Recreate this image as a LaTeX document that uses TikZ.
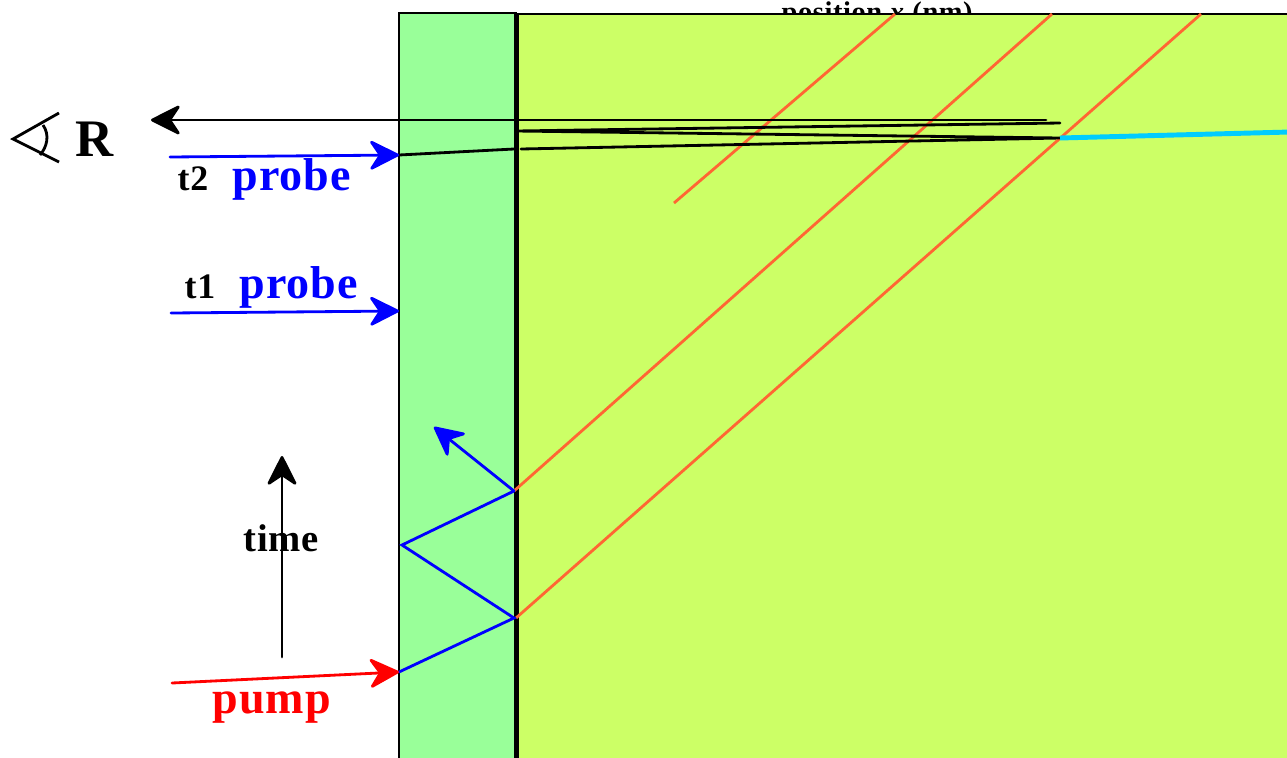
\documentclass[tikz,border=0pt]{standalone}
\usepackage{fontspec}
\setmainfont{Liberation Serif}
\usepackage[dvipsnames,svgnames,x11names]{xcolor}
\definecolor{film}{RGB}{153, 255, 153}
\definecolor{substrate}{RGB}{204, 255, 102}
\definecolor{phonon}{RGB}{255, 102, 51}
\definecolor{transmitted}{RGB}{0, 204, 255}
\usetikzlibrary{arrows.meta}
\tikzset{
    lbl/.style={inner sep=0pt, anchor=base west, font=\bfseries\fontsize{#1}{#1}\selectfont\addfontfeature{LetterSpace=2}},
    beam/.style={line width=0.8pt, line cap=round, -{Stealth[length=0.33cm, width=0.33cm, inset=0.11cm, round]}},
    ray/.style={line width=0.8pt, line cap=round},
    front/.style={line width=0.8pt, phonon}
}
\begin{document}
\begin{tikzpicture}[x=0.01cm, y=-0.01cm]
    \useasboundingbox (0,0) rectangle (1287,757);
    \clip (0,0) rectangle (1287,757);

    % Axis title, half hidden by the layers
    \node[lbl=8.1] (axis) at (781,21) {position \textit{x} (nm)};

    % Layers
    \draw[line width=0.8pt, fill=substrate] (516,14) rectangle (1300,770);
    \draw[line width=0.8pt, fill=film] (399,13) rectangle (516,770);
    \coordinate (IT) at (516.5,13);
    \coordinate (IB) at (516.5,770);
    \draw[line width=1.3pt] (IT) -- (IB);

    % Strain fronts
    \coordinate (A1) at (516,618);
    \coordinate (A2) at (514,491);
    \coordinate (E1) at (1201,14);
    \coordinate (E2) at (1052,14);
    \coordinate (E3) at (895,14);
    \coordinate (S3) at (674,203);
    \draw[front] (A1) -- (E1);
    \draw[front] (A2) -- (E2);
    \draw[front] (S3) -- (E3);

    % Probe reflections
    \coordinate (P2) at (399,155);
    \coordinate (F1) at (514,149);
    \coordinate (F2) at (521,149);
    \coordinate (Hit) at (1060,138);
    \coordinate (B1) at (516,131);
    \coordinate (B2) at (1060,123);
    \coordinate (B3) at (1046,120);
    \coordinate (Rt) at (151,120);
    \coordinate (Out) at (1290,132);
    \draw[ray] (P2) -- (F1);
    \draw[ray] (F2) -- (Hit) -- (B1) -- (B2);
    \draw[beam] (B3) -- (Rt);
    \draw[line width=1.4pt, transmitted] (Hit) -- (Out);

    % Pump path in the film
    \coordinate (P0) at (399,672);
    \coordinate (Z1) at (514,618);
    \coordinate (Z2) at (402,545);
    \coordinate (Z3) at (514,491);
    \coordinate (Z4) at (434,427);
    \draw[ray, blue] (P0) -- (Z1) -- (Z2) -- (Z3);
    \draw[beam, blue] (Z3) -- (Z4);

    % Incoming beams
    \coordinate (Pump) at (172,683);
    \coordinate (T1) at (171,313);
    \coordinate (P1) at (399,311);
    \coordinate (T2) at (170,157);
    \draw[beam, red] (Pump) -- (P0);
    \draw[beam, blue] (T1) -- (P1);
    \draw[beam, blue] (T2) -- (P2);

    % Time axis
    \coordinate (Ta) at (282,657);
    \coordinate (Tb) at (282,456);
    \draw[beam] (Ta) -- (Tb);

    % Eye
    \draw[line width=0.8pt] (59,113) -- (13,139) -- (59,162);
    \draw[line width=0.8pt] (43,125) .. controls (50,135) and (47,147) .. (40,155);

    % Labels
    \node[lbl=15] (R) at (75,156) {R};
    \node[lbl=10.2] (t2) at (177,190) {t2};
    \node[lbl=13.1] (probeb) at (232,190) [blue] {probe};
    \node[lbl=10.2] (t1) at (184,298) {t1};
    \node[lbl=13.1] (probea) at (239,298) [blue] {probe};
    \node[lbl=11] (time) at (243,551) {time};
    \node[lbl=13.1] (pump) at (212,713) [red] {pump};
\end{tikzpicture}
\end{document}
